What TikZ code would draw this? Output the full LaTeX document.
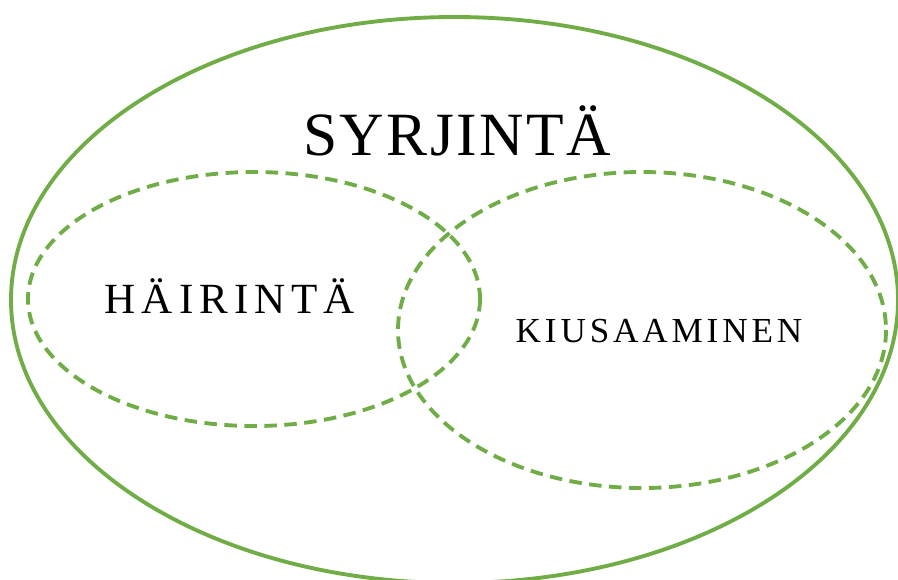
\documentclass[tikz,border=0pt]{standalone}
\usepackage{fontspec}
\setmainfont{Liberation Serif}
\usepackage{tikz}
\usetikzlibrary{calc}
\definecolor{vihrea}{RGB}{112,173,71}
\tikzset{
  joukko/.style={draw=vihrea, line width=2.2pt},
  osajoukko/.style={draw=vihrea, line width=2.2pt, dash pattern=on 0.25cm off 0.15cm},
  otsikko/.style={anchor=base, inner sep=0pt, text=black}
}

\begin{document}
\begin{tikzpicture}[x=0.02cm, y=-0.02cm]
  \useasboundingbox (0,0) rectangle (898,579);
  % ---- ulompi joukko ----
  \draw[joukko] (454.5,300) ellipse [x radius=443.5, y radius=283];
  % ---- sisemmat joukot ----
  \draw[osajoukko] (254,299) ellipse [x radius=226, y radius=127];
  \draw[osajoukko] (642,330) ellipse [x radius=244, y radius=158];
  % ---- tekstit ----
  \node[otsikko, font={\fontsize{35}{37}\selectfont\addfontfeature{LetterSpace=4}}] (syrjinta) at (457,155) {SYRJINTÄ};
  \node[otsikko, font={\fontsize{24.5}{26}\selectfont\addfontfeature{LetterSpace=14}}] (hairinta) at (230,313) {HÄIRINTÄ};
  \node[otsikko, font={\fontsize{20}{22}\selectfont\addfontfeature{LetterSpace=11}}] (kiusaaminen) at (659,342) {KIUSAAMINEN};
\end{tikzpicture}
\end{document}
